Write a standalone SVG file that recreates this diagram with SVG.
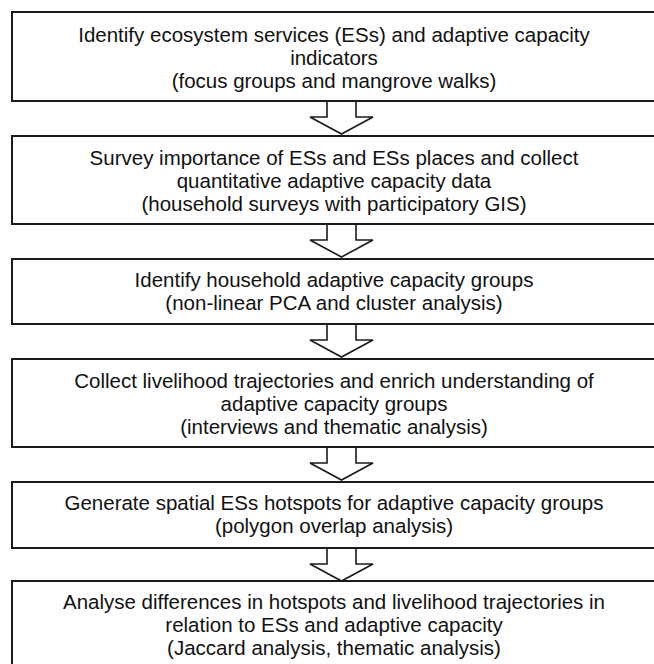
<svg xmlns="http://www.w3.org/2000/svg" width="654" height="664" viewBox="0 0 654 664">
<style>
.box{fill:#fff;stroke:#1a1a1a;stroke-width:2}
.arr{fill:#fff;stroke:#1a1a1a;stroke-width:1.6;stroke-linejoin:miter}
text{font-family:"Liberation Sans",Arial,sans-serif;font-size:20.5px;fill:#111;text-anchor:middle}
</style>
<rect width="654" height="664" fill="#fff"/>
<defs>
<path id="a" d="M327 0 V16 H310 L341.5 33 L373 16 H356 V0"/>
</defs>
<g id="connectors">
<use href="#a" class="arr" transform="translate(0,101)"/>
<use href="#a" class="arr" transform="translate(0,224)"/>
<use href="#a" class="arr" transform="translate(0,324)"/>
<use href="#a" class="arr" transform="translate(0,447)"/>
<use href="#a" class="arr" transform="translate(0,548)"/>
</g>
<g id="n1"><rect class="box" x="12" y="12" width="660" height="89"/>
<text x="334" y="42">Identify ecosystem services (ESs) and adaptive capacity</text>
<text x="334" y="65">indicators</text>
<text x="334" y="88">(focus groups and mangrove walks)</text></g>
<g id="n2"><rect class="box" x="12" y="136" width="660" height="88"/>
<text x="334" y="165">Survey importance of ESs and ESs places and collect</text>
<text x="334" y="188">quantitative adaptive capacity data</text>
<text x="334" y="211">(household surveys with participatory GIS)</text></g>
<g id="n3"><rect class="box" x="12" y="259" width="660" height="65"/>
<text x="334" y="287">Identify household adaptive capacity groups</text>
<text x="334" y="310">(non-linear PCA and cluster analysis)</text></g>
<g id="n4"><rect class="box" x="12" y="359" width="660" height="88"/>
<text x="334" y="388">Collect livelihood trajectories and enrich understanding of</text>
<text x="334" y="411">adaptive capacity groups</text>
<text x="334" y="434">(interviews and thematic analysis)</text></g>
<g id="n5"><rect class="box" x="12" y="482" width="660" height="66"/>
<text x="334" y="510">Generate spatial ESs hotspots for adaptive capacity groups</text>
<text x="334" y="533">(polygon overlap analysis)</text></g>
<g id="n6"><rect class="box" x="12" y="581" width="660" height="100"/>
<text x="334" y="609">Analyse differences in hotspots and livelihood trajectories in</text>
<text x="334" y="632">relation to ESs and adaptive capacity</text>
<text x="334" y="655">(Jaccard analysis, thematic analysis)</text></g>
</svg>
